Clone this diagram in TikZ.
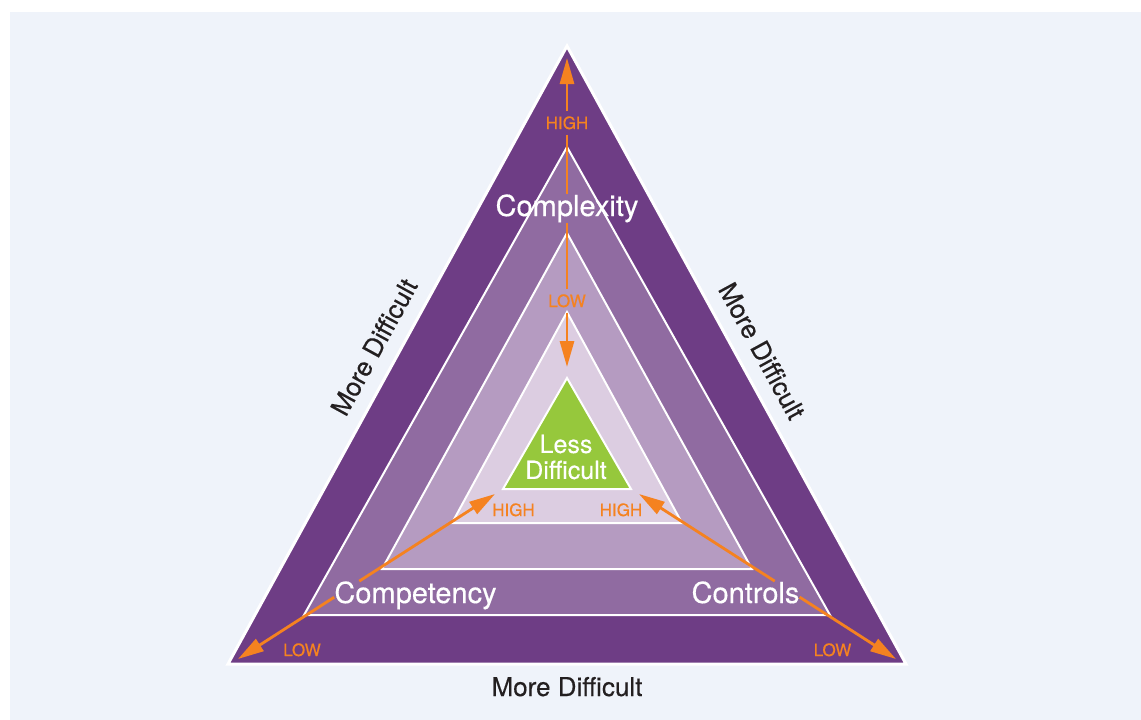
\documentclass[tikz,border=0pt]{standalone}
\usepackage{fontspec}
\setmainfont{TeX Gyre Heros}[FakeBold=0.35]
\usetikzlibrary{arrows.meta,intersections,calc}
\definecolor{bgc}{HTML}{EFF3FA}
\definecolor{pA}{HTML}{6E3D85}
\definecolor{pB}{HTML}{906BA1}
\definecolor{pC}{HTML}{B59BC1}
\definecolor{pD}{HTML}{DCCDE1}
\definecolor{grn}{HTML}{96C83C}
\definecolor{org}{HTML}{F58220}
\definecolor{dark}{HTML}{231F20}
\tikzset{
  layer/.style={draw=white, line width=2pt, line join=miter},
  big/.style={text=white, font=\fontsize{29}{32}\selectfont, inner sep=0pt, anchor=base},
  lbl/.style={text=org, font=\fontsize{17}{20}\selectfont, inner sep=5pt, anchor=base},
  md/.style={text=dark, font=\fontsize{26}{30}\selectfont, inner sep=0pt},
  ln/.style={draw=org, line width=2.8pt},
  arr/.style={ln, -{Triangle[length=26pt,width=14pt]}},
}
\begin{document}
\begin{tikzpicture}[x=1pt,y=-1pt]
\useasboundingbox (0,0) rectangle (1141,720);
\fill[bgc] (10,12) rectangle (1141,720);
% nested triangles
\path[layer, fill=pA, line width=3pt] (567,46) -- (906,664) -- (228,664) -- cycle;
\path[layer, fill=pB] (567,147) -- (830,615) -- (304,615) -- cycle;
\path[layer, fill=pC] (567,233) -- (752,569) -- (382,569) -- cycle;
\path[layer, fill=pD] (567,312) -- (682,523) -- (452,523) -- cycle;
\path[layer, fill=grn] (567,378) -- (631,489) -- (503,489) -- cycle;
% texts
\node[big] (cpx) at (567,216) {Complexity};
\node[big] (cmp) at (415.5,603) {Competency};
\node[big] (ctl) at (745.5,603) {Controls};
\node[text=white, font=\fontsize{25}{26}\selectfont, align=center, inner sep=0pt] (less) at (566,457) {Less\\Difficult};
\node[lbl] (hiT) at (567,129) {HIGH};
\node[lbl] (loT) at (567,307) {LOW};
\node[lbl] (hiL) at (513.5,516) {HIGH};
\node[lbl] (hiR) at (621,516) {HIGH};
\node[lbl] (loL) at (302,656) {LOW};
\node[lbl] (loR) at (832.5,656) {LOW};
\node[md, anchor=base] (mdB) at (567,696) {More Difficult};
\node[md, rotate=61.3] (mdL) at (374,347) {More Difficult};
\node[md, rotate=-61.3] (mdR) at (762,351) {More Difficult};
% arrow end points
\coordinate (tipT) at (567,58);
\coordinate (tipB) at (567,367);
\coordinate (tipBL) at (238,659);
\coordinate (tipHL) at (495,494);
\coordinate (tipBR) at (896,659);
\coordinate (tipHR) at (639,494);
% vertical arrow
\draw[arr] (hiT) -- (tipT);
\draw[ln] (hiT) -- (cpx);
\draw[ln] (cpx) -- (loT);
\draw[arr] (loT) -- (tipB);
% diagonal arrows, broken where they cross the texts
\path[name path=dl] (tipBL) -- (tipHL);
\path[name path=cb] (cmp.south west) rectangle (cmp.north east);
\path[name intersections={of=dl and cb, sort by=dl, by={iA,iB}}];
\draw[arr] (iA) -- (tipBL);
\draw[arr] (iB) -- (tipHL);
\path[name path=dr] (tipBR) -- (tipHR);
\path[name path=tb] (ctl.south west) rectangle (ctl.north east);
\path[name intersections={of=dr and tb, sort by=dr, by={jA,jB}}];
\draw[arr] (jA) -- (tipBR);
\draw[arr] (jB) -- (tipHR);
\end{tikzpicture}
\end{document}
